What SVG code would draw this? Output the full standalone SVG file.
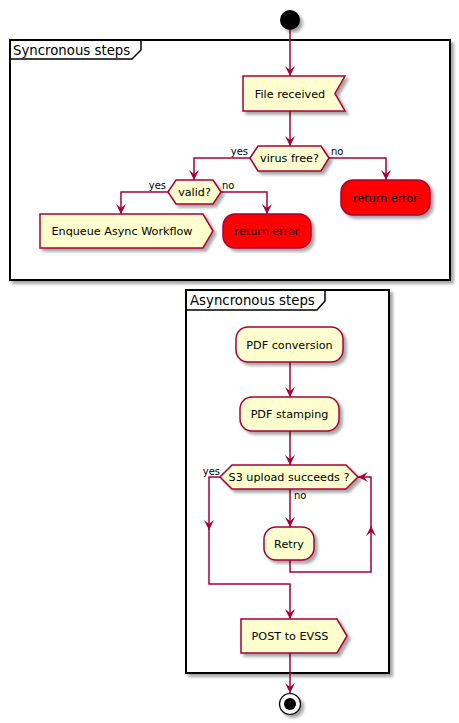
<svg xmlns="http://www.w3.org/2000/svg" width="459" height="723" viewBox="0 0 459 723">
<defs>
<filter id="sh" x="-20%" y="-20%" width="150%" height="150%">
<feDropShadow dx="3" dy="3" stdDeviation="1.8" flood-color="#000" flood-opacity="0.35"/>
</filter>
<marker id="ah" viewBox="0 0 10 10" refX="10" refY="5" markerWidth="10" markerHeight="10" markerUnits="userSpaceOnUse" orient="auto">
<path d="M10,5 L0,0 L4,5 L0,10 Z" fill="#A80036"/>
</marker>
<style>
.frame{fill:#fff;stroke:#000;stroke-width:2}
.tab{fill:none;stroke:#000;stroke-width:1.5}
.ftitle{font-family:"DejaVu Sans",sans-serif;font-size:13.3px;fill:#000}
.act{fill:#FEFECE;stroke:#A80036;stroke-width:1.5}
.err{fill:#FF0000;stroke:#A80036;stroke-width:1.5}
.t{font-family:"DejaVu Sans",sans-serif;font-size:11.2px;fill:#000;text-anchor:middle}
.lbl{font-family:"DejaVu Sans",sans-serif;font-size:10px;fill:#000}
.c{fill:none;stroke:#A80036;stroke-width:1.5}
.a{marker-end:url(#ah)}
</style>
</defs>
<rect width="459" height="723" fill="#fff"/>

<g id="frame-sync">
<rect class="frame" x="10" y="40" width="440" height="240" filter="url(#sh)"/>
<path class="tab" d="M10,59 L132,59 L141,50 L141,40"/>
<text class="ftitle" x="13" y="55">Syncronous steps</text>
</g>
<g id="frame-async">
<rect class="frame" x="186" y="290" width="203" height="383" filter="url(#sh)"/>
<path class="tab" d="M186,310 L317,310 L325,301 L325,290"/>
<text class="ftitle" x="190" y="305">Asyncronous steps</text>
</g>

<g id="connectors">
<path class="c a" d="M290,30 L290,76"/>
<path class="c a" d="M290,111 L290,146"/>
<path class="c a" d="M250,158 L194,158 L194,180"/>
<path class="c a" d="M329,158 L386,158 L386,180"/>
<path class="c a" d="M168,192 L121,192 L121,214"/>
<path class="c a" d="M221,192 L267,192 L267,214"/>
<path class="c a" d="M290,362 L290,397"/>
<path class="c a" d="M290,431 L290,465"/>
<path class="c a" d="M220,477 L209,477 L209,530"/>
<path class="c a" d="M209,529 L209,584 L290,584 L290,619"/>
<path class="c a" d="M290,489 L290,527"/>
<path class="c a" d="M290,560 L290,572 L371,572 L371,526"/>
<path class="c a" d="M371,527 L371,477 L358,477"/>
<path class="c a" d="M290,653 L290,693"/>
<text class="lbl" x="248" y="155" text-anchor="end">yes</text>
<text class="lbl" x="331" y="155">no</text>
<text class="lbl" x="166" y="189" text-anchor="end">yes</text>
<text class="lbl" x="222" y="189">no</text>
<text class="lbl" x="220" y="475" text-anchor="end">yes</text>
<text class="lbl" x="294" y="499">no</text>
</g>

<g id="start"><circle cx="290" cy="20" r="10" fill="#000" filter="url(#sh)"/></g>

<g id="file-received">
<polygon class="act" points="243,76 345,76 335,93.5 345,111 243,111" filter="url(#sh)"/>
<text class="t" x="290" y="97.5">File received</text>
</g>
<g id="virus-free">
<polygon class="act" points="250,158 258,146 321,146 329,158 321,171 258,171" filter="url(#sh)"/>
<text class="t" x="289.5" y="162">virus free?</text>
</g>
<g id="return-error-1">
<rect class="err" x="341" y="180" width="89" height="35" rx="12" ry="12" filter="url(#sh)"/>
<text class="t" x="385.5" y="201.5">return error</text>
</g>
<g id="valid">
<polygon class="act" points="168,192 176,180 213,180 221,192 213,204 176,204" filter="url(#sh)"/>
<text class="t" x="194.5" y="196">valid?</text>
</g>
<g id="enqueue">
<polygon class="act" points="40,214 203,214 213,231 203,248 40,248" filter="url(#sh)"/>
<text class="t" x="122" y="235">Enqueue Async Workflow</text>
</g>
<g id="return-error-2">
<rect class="err" x="223" y="214" width="88" height="34" rx="12" ry="12" filter="url(#sh)"/>
<text class="t" x="267" y="235">return error</text>
</g>

<g id="pdf-conversion">
<rect class="act" x="236" y="327" width="107" height="35" rx="12" ry="12" filter="url(#sh)"/>
<text class="t" x="289.5" y="348.5">PDF conversion</text>
</g>
<g id="pdf-stamping">
<rect class="act" x="240" y="397" width="99" height="34" rx="12" ry="12" filter="url(#sh)"/>
<text class="t" x="289.5" y="418">PDF stamping</text>
</g>
<g id="s3-upload">
<polygon class="act" points="220,477 232,465 346,465 358,477 346,489 232,489" filter="url(#sh)"/>
<text class="t" x="289" y="481">S3 upload succeeds ?</text>
</g>
<g id="retry">
<rect class="act" x="264" y="527" width="50" height="33" rx="12" ry="12" filter="url(#sh)"/>
<text class="t" x="289" y="547.5">Retry</text>
</g>
<g id="post-evss">
<polygon class="act" points="241,619 337,619 347,636 337,653 241,653" filter="url(#sh)"/>
<text class="t" x="290" y="640">POST to EVSS</text>
</g>
<g id="end">
<circle cx="290" cy="704" r="10.5" fill="#fff" stroke="#000" stroke-width="1.2" filter="url(#sh)"/>
<circle cx="290" cy="704" r="6" fill="#000"/>
</g>
</svg>
